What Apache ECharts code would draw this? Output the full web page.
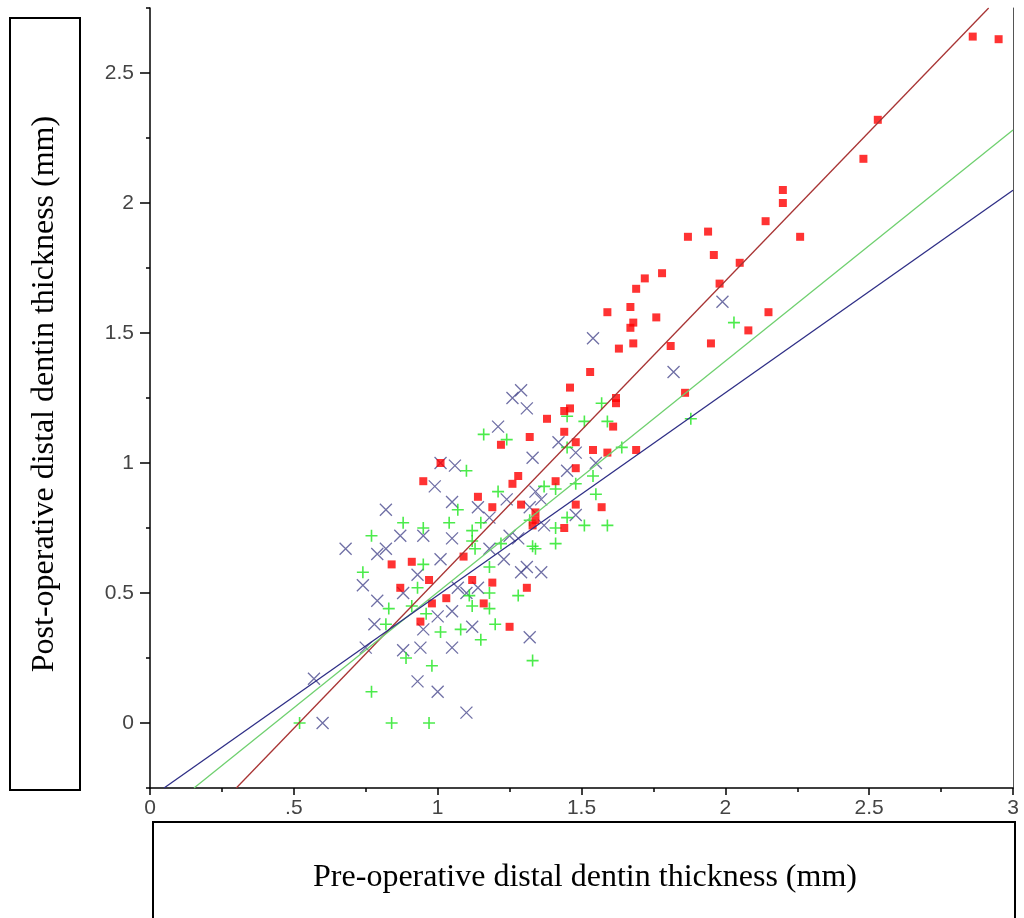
<!DOCTYPE html>
<html>
<head>
<meta charset="utf-8">
<script src="https://cdn.jsdelivr.net/npm/echarts@6/dist/echarts.min.js"></script>
<style>
html,body{margin:0;padding:0;background:#fff;}
#chart{width:1024px;height:918px;}
</style>
</head>
<body>
<div id="chart"></div>
<script>
// ---- Data ----
const xTickValues = [0, 0.5, 1, 1.5, 2, 2.5, 3];
const xTickLabels = ['0', '.5', '1', '1.5', '2', '2.5', '3'];
const yTickValues = [0, 0.5, 1, 1.5, 2, 2.5];
const yTickLabels = ['0', '0.5', '1', '1.5', '2', '2.5'];

const xTitle = 'Pre-operative distal dentin thickness (mm)';
const yTitle = 'Post-operative distal dentin thickness (mm)';

// Red squares
const redPoints = [
  [0.95,0.93],[0.84,0.61],[0.91,0.62],[0.97,0.55],[0.87,0.52],[1.03,0.48],[0.98,0.46],[0.94,0.39],
  [1.32,1.10],[1.22,1.07],[1.44,1.12],[1.48,1.08],[1.01,1.00],[1.48,0.98],[1.28,0.95],[1.26,0.92],
  [1.41,0.93],[1.14,0.87],[1.19,0.83],[1.29,0.84],[1.48,0.84],[1.34,0.81],[1.34,0.78],[1.33,0.76],
  [1.44,0.75],[1.09,0.64],[1.12,0.55],[1.19,0.54],[1.31,0.52],[1.16,0.46],[1.25,0.37],
  [1.53,1.35],[1.46,1.29],[1.62,1.25],[1.62,1.23],[1.46,1.21],[1.44,1.20],[1.38,1.17],[1.61,1.14],
  [1.54,1.05],[1.59,1.04],[1.69,1.05],[1.57,0.83],
  [2.20,2.05],[2.20,2.00],[2.14,1.93],[2.26,1.87],[1.94,1.89],[1.87,1.87],[1.96,1.80],[2.05,1.77],
  [1.78,1.73],[1.72,1.71],[1.69,1.67],[1.98,1.69],[1.67,1.60],[1.59,1.58],[1.76,1.56],[1.68,1.54],
  [1.67,1.52],[2.15,1.58],[2.08,1.51],[1.63,1.44],[1.68,1.46],[1.81,1.45],[1.95,1.46],[1.86,1.27],
  [2.86,2.64],[2.95,2.63],[2.53,2.32],[2.48,2.17]
];

// Green plus signs
const greenPoints = [
  [0.88,0.77],[0.95,0.75],[0.77,0.72],[0.95,0.61],[0.74,0.58],[0.93,0.52],[0.83,0.44],[0.91,0.45],
  [0.96,0.42],[0.82,0.38],[1.01,0.35],[0.89,0.25],[0.98,0.22],[0.77,0.12],[0.52,0.00],[0.84,0.00],
  [0.97,0.00],[1.16,1.11],[1.24,1.09],[1.10,0.97],[1.48,0.92],[1.21,0.89],[1.37,0.91],[1.41,0.90],
  [1.07,0.82],[1.45,0.79],[1.15,0.77],[1.04,0.77],[1.12,0.74],[1.32,0.78],[1.41,0.75],[1.12,0.70],
  [1.22,0.69],[1.33,0.68],[1.41,0.69],[1.34,0.67],[1.13,0.67],[1.18,0.60],[1.18,0.50],[1.28,0.49],
  [1.11,0.49],[1.12,0.45],[1.18,0.44],[1.20,0.38],[1.08,0.36],[1.15,0.32],[1.33,0.24],
  [1.57,1.23],[1.45,1.18],[1.51,1.16],[1.59,1.16],[1.45,1.06],[1.64,1.06],[1.54,0.95],[1.55,0.88],
  [1.51,0.76],[1.59,0.76],[1.88,1.17],[2.03,1.54]
];

// Blue crosses
const bluePoints = [
  [0.99,0.91],[0.82,0.82],[0.87,0.72],[0.95,0.72],[0.68,0.67],[0.82,0.67],[0.79,0.65],[1.01,0.63],
  [0.93,0.57],[0.74,0.53],[0.88,0.50],[0.79,0.47],[1.00,0.41],[0.78,0.38],[0.95,0.36],[0.75,0.29],
  [0.88,0.28],[0.94,0.29],[0.93,0.16],[0.57,0.17],[1.00,0.12],[0.60,0.00],
  [1.21,1.14],[1.42,1.08],[1.48,1.04],[1.33,1.02],[1.01,1.00],[1.06,0.99],[1.45,0.97],[1.34,0.89],
  [1.24,0.86],[1.05,0.85],[1.36,0.86],[1.14,0.83],[1.32,0.83],[1.48,0.80],[1.18,0.79],[1.37,0.76],
  [1.05,0.71],[1.25,0.72],[1.28,0.71],[1.18,0.67],[1.23,0.63],[1.31,0.60],[1.36,0.58],[1.29,0.58],
  [1.07,0.52],[1.10,0.50],[1.14,0.52],[1.05,0.43],[1.12,0.37],[1.32,0.33],[1.05,0.29],[1.10,0.04],
  [1.54,1.48],[1.29,1.28],[1.26,1.25],[1.31,1.21],[1.55,1.00],[1.99,1.62],[1.82,1.35]
];

// Fitted regression lines: [slope, intercept]
const redFit = [1.147, -0.594];
const greenFit = [0.889, -0.386];
const blueFit = [0.779, -0.288];

const xMin = 0, xMax = 3, yMin = -0.25, yMax = 2.75;

function fitLine(fit) {
  const [m, b] = fit;
  let x0 = Math.max(xMin, (yMin - b) / m);
  let x1 = Math.min(xMax, (yMax - b) / m);
  return [[x0, m * x0 + b], [x1, m * x1 + b]];
}

const chart = echarts.init(document.getElementById('chart'));
const labelFont = { fontFamily: 'Liberation Sans, Arial, sans-serif', fontSize: 21, color: '#444' };

const option = {
  animation: false,
  backgroundColor: '#fff',
  grid: { left: 150, right: 11, top: 8, bottom: 130, containLabel: false },
  xAxis: [
    {
      type: 'value', min: xMin, max: xMax, interval: 0.5, position: 'bottom',
      axisLine: { show: true, onZero: false, lineStyle: { color: '#000', width: 1.5 } },
      axisTick: { show: true, length: 7, lineStyle: { color: '#000', width: 1.5 } },
      axisLabel: Object.assign({ margin: 10, formatter: v => {
        const i = xTickValues.findIndex(t => Math.abs(t - v) < 1e-9);
        return i >= 0 ? xTickLabels[i] : '';
      } }, labelFont),
      splitLine: { show: false }
    },
    {
      type: 'value', min: xMin, max: xMax, interval: 0.25, position: 'bottom',
      axisLine: { show: false, onZero: false },
      axisTick: { show: true, length: 4, lineStyle: { color: '#000', width: 1.5 } },
      axisLabel: { show: false }, splitLine: { show: false }
    }
  ],
  yAxis: [
    {
      type: 'value', min: yMin, max: yMax, interval: 0.25, position: 'left',
      axisLine: { show: true, onZero: false, lineStyle: { color: '#000', width: 1.5 } },
      axisTick: { show: true, length: 4, lineStyle: { color: '#000', width: 1.5 } },
      axisLabel: Object.assign({ margin: 16, formatter: v => {
        const i = yTickValues.findIndex(t => Math.abs(t - v) < 1e-9);
        return i >= 0 ? yTickLabels[i] : '';
      } }, labelFont),
      splitLine: { show: false }
    },
    {
      type: 'value', min: yMin, max: yMax, position: 'left',
      axisLine: { show: false, onZero: false },
      axisTick: { show: true, length: 10, customValues: yTickValues, lineStyle: { color: '#000', width: 1.5 } },
      axisLabel: { show: false }, splitLine: { show: false }
    },
    {
      type: 'value', min: yMin, max: yMax, position: 'right',
      axisLine: { show: true, onZero: false, lineStyle: { color: '#555', width: 1 } },
      axisTick: { show: false }, axisLabel: { show: false }, splitLine: { show: false }
    }
  ],
  graphic: [
    { type: 'rect', shape: { x: 10, y: 18, width: 70, height: 772 },
      style: { fill: 'none', stroke: '#000', lineWidth: 2 } },
    { type: 'text', x: 45, y: 394, rotation: Math.PI / 2,
      style: { text: yTitle, font: '32px "Liberation Serif", "Times New Roman", serif', fill: '#000',
               align: 'center', verticalAlign: 'middle' } },
    { type: 'rect', shape: { x: 153, y: 822, width: 862, height: 100 },
      style: { fill: 'none', stroke: '#000', lineWidth: 2 } },
    { type: 'text', x: 585, y: 878,
      style: { text: xTitle, font: '32px "Liberation Serif", "Times New Roman", serif', fill: '#000',
               align: 'center', verticalAlign: 'middle' } }
  ],
  series: [
    { type: 'line', data: fitLine(redFit), symbol: 'none', lineStyle: { color: '#a83434', width: 1.3 }, z: 3 },
    { type: 'line', data: fitLine(greenFit), symbol: 'none', lineStyle: { color: '#6fd06f', width: 1.3 }, z: 3 },
    { type: 'line', data: fitLine(blueFit), symbol: 'none', lineStyle: { color: '#2e2e86', width: 1.3 }, z: 3 },
    { type: 'scatter', data: bluePoints, symbol: 'path://M0,0L10,10M10,0L0,10', symbolSize: 12,
      itemStyle: { color: 'none', borderColor: '#4b4b8f', borderWidth: 1.3 }, z: 2 },
    { type: 'scatter', data: greenPoints, symbol: 'path://M0,5L10,5M5,0L5,10', symbolSize: 12,
      itemStyle: { color: 'none', borderColor: '#1ee61e', borderWidth: 1.6 }, z: 2 },
    { type: 'scatter', data: redPoints, symbol: 'rect', symbolSize: 8,
      itemStyle: { color: '#ff0000' }, z: 2 }
  ]
};
chart.setOption(option);
</script>
</body>
</html>
